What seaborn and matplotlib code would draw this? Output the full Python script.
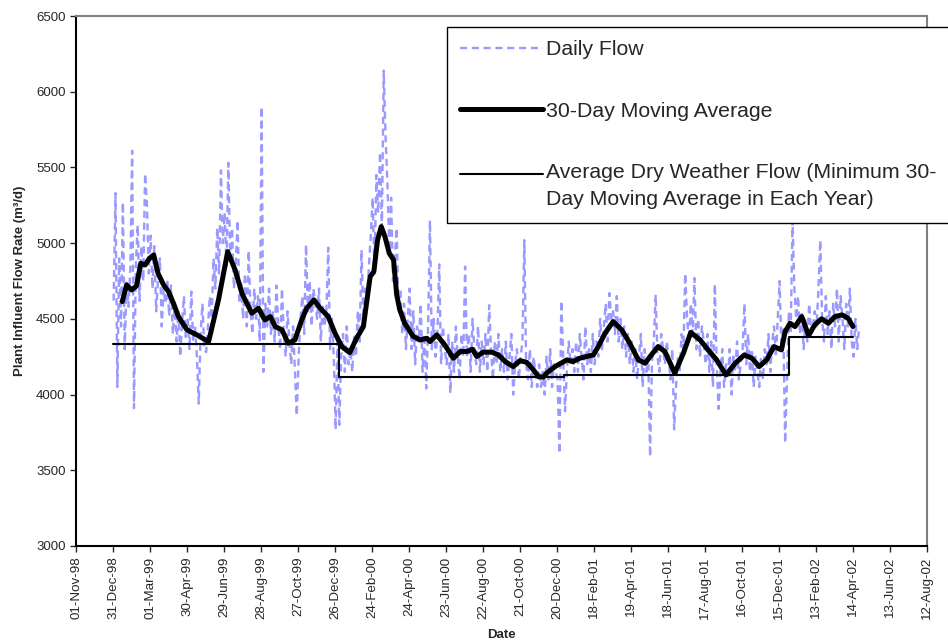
import matplotlib
matplotlib.use("Agg")
import matplotlib.pyplot as plt
import matplotlib.dates as mdates
import pandas as pd
import seaborn as sns

### Data ###
# daily plant influent flow (m3/d), one reading every 3rd day from 01-Jan-99
daily_start = "1999-01-01"
daily_flow = [
    4620, 5330, 4050, 4900, 4450, 5270, 4300, 4750, 4580, 4820,   # Jan 99
    5610, 3910, 4850, 5120, 4620, 4980, 4750, 5460, 5250, 4800,   # Feb 99
    5050, 4700, 4980, 4550, 4760, 4900, 4450, 4700, 4600, 4760,   # Mar 99
    4520, 4720, 4400, 4600, 4350, 4550, 4250, 4480, 4650, 4380,   # Apr 99
    4500, 4300, 4680, 4350, 4450, 4250, 3940, 4400, 4600, 4300,   # May 99
    4280, 4450, 4650, 4500, 4900, 4700, 5100, 4800, 5480, 5000,   # Jun 99
    5200, 4850, 5530, 4900, 5100, 4700, 4850, 5150, 4600, 4750,   # Jul 99
    4500, 4800, 4450, 4950, 4550, 4400, 4700, 4500, 4650, 4350,   # Aug 99
    5900, 4150, 4600, 4450, 4700, 4400, 4550, 4350, 4720, 4450,   # Sep 99
    4300, 4700, 4400, 4250, 4550, 4350, 4200, 4450, 4150, 3860,   # Oct 99
    4250, 4500, 4650, 4400, 4990, 4550, 4750, 4450, 4700, 4600,   # Nov 99
    4500, 4700, 4350, 4600, 4450, 4550, 4970, 4300, 4500, 4250,   # Dec 99
    3770, 4350, 3800, 4250, 4400, 4150, 4450, 4200, 4300, 4150,   # Jan 00
    4400, 4250, 4550, 4350, 4955, 4500, 4700, 4600, 4850, 5050,   # Feb 00
    5300, 4800, 5450, 5200, 5600, 5100, 6140, 5700, 5400, 4950,   # Mar 00
    5300, 4750, 4900, 5100, 4550, 4700, 4400, 4600, 4300, 4500,   # Apr 00
    4700, 4300, 4550, 4200, 4450, 4350, 4600, 4150, 4400, 4040,   # May 00
    4450, 5150, 4300, 4500, 4250, 4400, 4860, 4200, 4450, 4300,   # Jun 00
    4200, 4400, 4010, 4350, 4150, 4450, 4250, 4100, 4400, 4250,   # Jul 00
    4845, 4250, 4400, 4150, 4500, 4300, 4200, 4450, 4150, 4350,   # Aug 00
    4200, 4400, 4150, 4590, 4300, 4100, 4350, 4200, 4400, 4150,   # Sep 00
    4300, 4150, 4350, 4100, 4250, 4400, 4000, 4200, 4300, 4100,   # Oct 00
    4250, 4350, 5020, 4200, 4100, 4300, 4050, 4250, 4150, 4050,   # Nov 00
    4200, 4050, 4150, 4000, 4250, 4100, 4300, 4050, 4200, 4150,   # Dec 00
    4100, 3610, 4620, 4250, 3890, 4150, 4350, 4200, 4300, 4150,   # Jan 01
    4350, 4150, 4400, 4250, 4100, 4450, 4200, 4300, 4150, 4400,   # Feb 01
    4200, 4350, 4250, 4500, 4300, 4450, 4600, 4350, 4670, 4500,   # Mar 01
    4550, 4400, 4650, 4350, 4500, 4300, 4450, 4250, 4400, 4200,   # Apr 01
    4350, 4150, 4300, 4100, 4250, 4400, 4050, 4300, 4150, 4250,   # May 01
    3590, 4200, 4350, 4660, 4250, 4150, 4400, 4300, 4200, 4350,   # Jun 01
    4250, 4100, 4300, 3770, 4050, 4250, 4150, 4400, 4300, 4800,   # Jul 01
    4500, 4350, 4600, 4400, 4770, 4300, 4500, 4250, 4450, 4350,   # Aug 01
    4200, 4400, 4150, 4350, 4050, 4730, 4200, 3905, 4150, 4300,   # Sep 01
    4050, 4200, 4100, 4300, 4000, 4250, 4150, 4350, 4100, 4200,   # Oct 01
    4300, 4600, 4200, 4400, 4150, 4300, 4050, 4250, 4150, 4050,   # Nov 01
    4250, 4100, 4300, 4200, 4400, 4150, 4350, 4450, 4250, 4500,   # Dec 01
    4750, 4300, 4450, 3680, 4100, 4550, 4400, 5150, 4700, 4500,   # Jan 02
    4650, 4400, 4550, 4300, 4500, 4350, 4600, 4400, 4450, 4550,   # Feb 02
    4450, 4700, 5020, 4500, 4350, 4650, 4400, 4550, 4300, 4600,   # Mar 02
    4450, 4700, 4350, 4650, 4500, 4300, 4600, 4450, 4700, 4350,   # Apr 02
    4250, 4500, 4300, 4450,
]

# 30-day moving average
ma_dates = [
    "1999-01-15", "1999-01-22", "1999-01-30", "1999-02-07", "1999-02-14",
    "1999-02-21", "1999-02-28", "1999-03-07", "1999-03-14", "1999-03-23",
    "1999-03-31", "1999-04-08", "1999-04-16", "1999-04-30", "1999-05-16",
    "1999-06-04", "1999-06-20", "1999-07-05", "1999-07-17", "1999-07-28",
    "1999-08-13", "1999-08-24", "1999-09-03", "1999-09-12", "1999-09-20",
    "1999-10-01", "1999-10-11", "1999-10-22", "1999-11-02", "1999-11-10",
    "1999-11-22", "1999-12-02", "1999-12-15", "1999-12-26", "2000-01-06",
    "2000-01-19", "2000-01-30", "2000-02-10", "2000-02-21", "2000-02-27",
    "2000-03-04", "2000-03-10", "2000-03-16", "2000-03-23", "2000-03-30",
    "2000-04-04", "2000-04-09", "2000-04-17", "2000-05-01", "2000-05-12",
    "2000-05-23", "2000-05-28", "2000-06-08", "2000-06-21", "2000-07-05",
    "2000-07-16", "2000-07-27", "2000-08-05", "2000-08-12", "2000-08-22",
    "2000-09-05", "2000-09-16", "2000-09-27", "2000-10-10", "2000-10-21",
    "2000-11-01", "2000-11-12", "2000-11-20", "2000-11-28", "2000-12-03",
    "2000-12-17", "2001-01-05", "2001-01-15", "2001-01-26", "2001-02-17",
    "2001-02-25", "2001-03-08", "2001-03-21", "2001-04-04", "2001-04-17",
    "2001-05-01", "2001-05-12", "2001-05-22", "2001-06-02", "2001-06-13",
    "2001-06-29", "2001-07-13", "2001-07-25", "2001-08-09", "2001-08-22",
    "2001-09-05", "2001-09-20", "2001-10-05", "2001-10-20", "2001-11-01",
    "2001-11-13", "2001-11-25", "2001-12-07", "2001-12-19", "2001-12-25",
    "2002-01-02", "2002-01-10", "2002-01-21", "2002-02-01", "2002-02-11",
    "2002-02-22", "2002-03-05", "2002-03-16", "2002-03-27", "2002-04-06",
    "2002-04-14",
]
ma_values = [
    4614, 4724, 4691, 4717, 4867,
    4856, 4900, 4922, 4801, 4724,
    4680, 4603, 4515, 4427, 4394,
    4349, 4625, 4944, 4823, 4669,
    4537, 4570, 4493, 4515, 4449,
    4427, 4339, 4361, 4493, 4570,
    4625, 4570, 4515, 4405, 4317,
    4277, 4372, 4449, 4779, 4812,
    5021, 5109, 5043, 4933, 4889,
    4660, 4560, 4471, 4383, 4361,
    4372, 4350, 4394, 4328, 4240,
    4284, 4284, 4299, 4251, 4280,
    4280, 4262, 4218, 4185, 4224,
    4213, 4162, 4118, 4115, 4141,
    4185, 4229, 4218, 4240, 4262,
    4317, 4405, 4482, 4427, 4339,
    4229, 4207, 4262, 4317, 4284,
    4141, 4273, 4410, 4361, 4295,
    4229, 4130, 4207, 4262, 4240,
    4185, 4229, 4317, 4295, 4416,
    4471, 4449, 4515, 4390, 4460,
    4500, 4471, 4515, 4526, 4504,
    4449,
]

# average dry weather flow = minimum 30-day average of each year
dwf_starts = ["1998-12-31", "2000-01-01", "2001-01-01", "2002-01-01"]
dwf_end = "2002-04-14"
dwf_values = [4335, 4115, 4128, 4382]

### Frames ###
daily = pd.DataFrame({"date": pd.date_range(daily_start, periods=len(daily_flow), freq="3D"),
                      "flow": daily_flow})
ma = pd.DataFrame({"date": pd.to_datetime(ma_dates), "flow": ma_values})
dwf = pd.DataFrame({"date": pd.to_datetime(dwf_starts + [dwf_end]),
                    "flow": dwf_values + [dwf_values[-1]]})

### Plot ###
sns.set_style("white")
plt.rcParams["font.family"] = ["Liberation Sans", "DejaVu Sans"]

fig = plt.figure(figsize=(9.48, 6.43), dpi=100)
ax = fig.add_axes([0.0802, 0.1509, 0.8976, 0.8242])

sns.lineplot(data=daily, x="date", y="flow", ax=ax, color="#9999FF",
             linewidth=1.7, linestyle=(0, (3, 2)), label="Daily Flow")
sns.lineplot(data=ma, x="date", y="flow", ax=ax, color="black",
             linewidth=3.6, solid_capstyle="round", solid_joinstyle="round",
             label="30-Day Moving Average")
sns.lineplot(data=dwf, x="date", y="flow", ax=ax, color="black",
             linewidth=1.5, drawstyle="steps-post",
             label="Average Dry Weather Flow (Minimum 30-\nDay Moving Average in Each Year)")

### Format ###
ax.set_ylim(3000, 6500)
ax.set_yticks(range(3000, 6501, 500))
tick_dates = pd.date_range("1998-11-01", periods=24, freq="60D")
ax.set_xlim(tick_dates[0], tick_dates[-1])
ax.set_xticks(tick_dates)
ax.xaxis.set_major_formatter(mdates.DateFormatter("%d-%b-%y"))
ax.tick_params(axis="x", labelrotation=90, labelsize=9.6, length=4, width=1, direction="out", bottom=True)
ax.tick_params(axis="y", labelsize=9.5, length=4, width=1, direction="out", left=True)

for s in ["left", "bottom"]:
    ax.spines[s].set_color("black")
    ax.spines[s].set_linewidth(1.5)
for s in ["top", "right"]:
    ax.spines[s].set_color("#808080")
    ax.spines[s].set_linewidth(1.5)

ax.set_xlabel("Date", fontsize=9.5, fontweight="bold", labelpad=7)
ax.set_ylabel("Plant Influent Flow Rate (m³/d)", fontsize=9.5, fontweight="bold", labelpad=7)

leg = ax.legend(loc="upper left", bbox_to_anchor=(447 / 948, 1 - 27 / 643),
                bbox_transform=fig.transFigure, borderaxespad=0,
                fontsize=15.3, frameon=True, fancybox=False, edgecolor="black",
                framealpha=1, handlelength=3.9, handletextpad=0.15,
                labelspacing=2.0, borderpad=0.62)
leg.get_frame().set_linewidth(1)
leg.get_texts()[2].set_linespacing(1.55)
# the dry-weather handle sits on the first line of its label
h = leg.legend_handles[2]
h.set_ydata([v + 9 for v in h.get_ydata()])

fig.savefig("out.png", dpi=100)
